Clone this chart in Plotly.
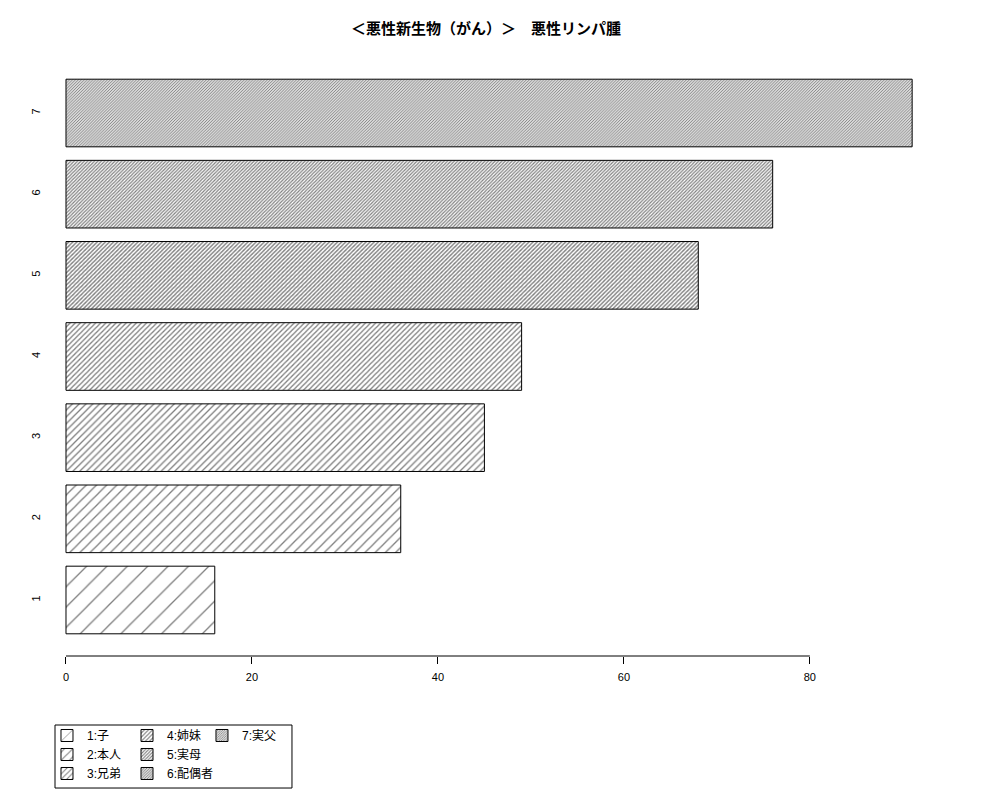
import plotly.graph_objects as go

# data
categories = ["1", "2", "3", "4", "5", "6", "7"]
labels = ["1:子", "2:本人", "3:兄弟", "4:姉妹", "5:実母", "6:配偶者", "7:実父"]
values = [16, 36, 45, 49, 68, 76, 91]
x_ticks = [0, 20, 40, 60, 80]

# hatch density in lines per inch, as in R's barplot(density=...)
densities = [5, 10, 15, 20, 25, 30, 35]
legend_of = ["legend", "legend", "legend", "legend2", "legend2", "legend2", "legend3"]

FONT = "Liberation Sans, Arial, Noto Sans CJK JP, sans-serif"

fig = go.Figure()
for i in range(len(categories)):
  size = 72.0 / densities[i]
  fig.add_trace(go.Bar(
    y=[categories[i]], x=[values[i]],
    orientation="h",
    name=labels[i],
    legend=legend_of[i],
    marker=dict(
      color="white",
      line=dict(color="black", width=1),
      pattern=dict(shape="/", size=size, solidity=min(0.5, 1.3 / size),
                   fgcolor="black", bgcolor="white")
    ),
    hoverinfo="x+y"
  ))

legend_style = dict(
  orientation="v", yanchor="top", xanchor="left",
  font=dict(family=FONT, size=12, color="black"),
  bgcolor="rgba(0,0,0,0)", borderwidth=0,
  tracegroupgap=0, itemwidth=30, traceorder="normal"
)

# the page adds an 8px body margin, so the figure is laid out 8px up and left
fig.update_layout(
  width=1000, height=800,
  margin=dict(l=38, r=62, t=49, b=152, autoexpand=False),
  paper_bgcolor="white", plot_bgcolor="white",
  barmode="overlay", bargap=1/6,
  showlegend=True,
  title=dict(text="<b>＜悪性新生物（がん）＞　悪性リンパ腫</b>", x=0.478, xanchor="center",
             xref="container", y=0.974, yanchor="middle",
             font=dict(family="Noto Sans CJK JP, sans-serif", size=15, color="black")),
  font=dict(family=FONT, size=11, color="black"),
  legend=dict(x=0.0011, y=-0.1085, **legend_style),
  legend2=dict(x=0.09, y=-0.1085, **legend_style),
  legend3=dict(x=0.1733, y=-0.1085, **legend_style),
  xaxis=dict(range=[-2.15, 94.64], tickvals=x_ticks, ticks="outside", ticklen=7,
             tickcolor="black", showline=False, showgrid=False, zeroline=False,
             automargin=False, ticklabelstandoff=4, tickfont=dict(family=FONT, size=11)),
  yaxis=dict(range=[-0.69, 6.69], type="category", categoryorder="array",
             categoryarray=categories, tickangle=-90, ticks="", showline=False,
             showgrid=False, zeroline=False, automargin=False, ticklabelstandoff=3,
             tickfont=dict(family=FONT, size=11)),
)

# axis line only over the tick span, as R draws it
fig.add_shape(type="line", xref="x", yref="paper", x0=x_ticks[0], x1=x_ticks[-1],
              y0=0, y1=0, line=dict(color="black", width=1))
# legend frame
fig.add_shape(type="rect", xref="paper", yref="paper", x0=0.01, x1=0.2733,
              y0=-0.2204, y1=-0.1152, line=dict(color="black", width=1))

fig.write_html("out.html")
